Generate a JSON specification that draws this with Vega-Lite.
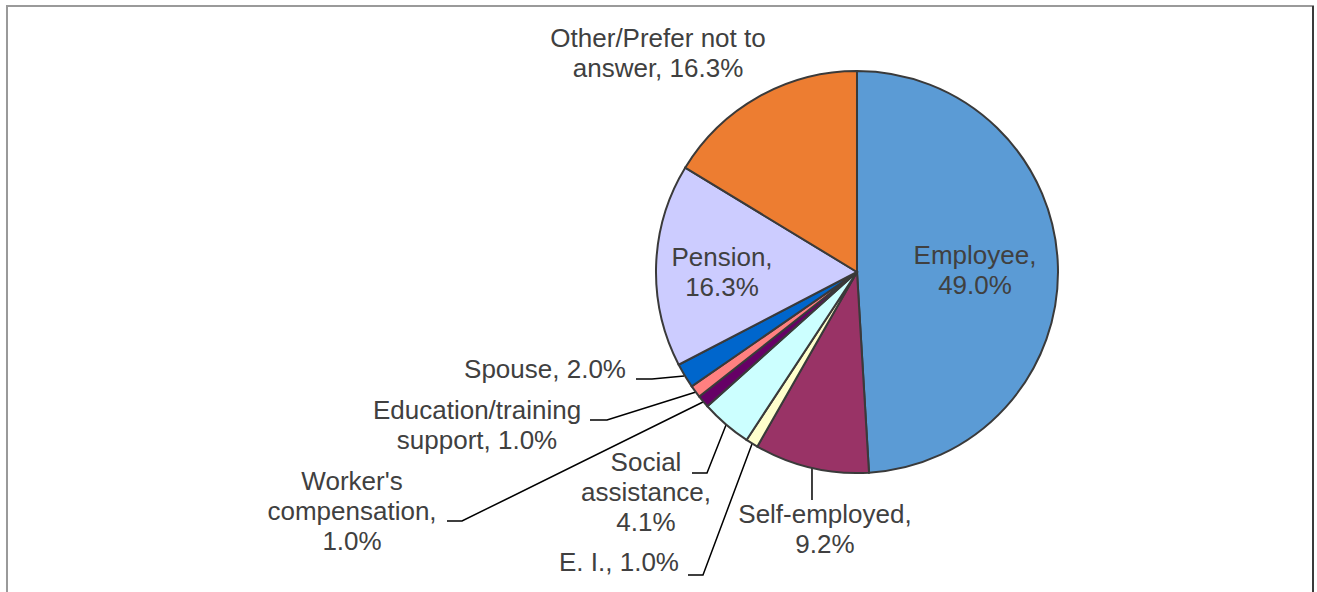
{
  "$schema": "https://vega.github.io/schema/vega-lite/v6.json",
  "width": 1317,
  "height": 592,
  "padding": 0,
  "autosize": {"type": "none"},
  "background": "white",
  "config": {"view": {"stroke": null}},
  "datasets": {
    "slices": [
      {"category": "Employee", "value": 49.0, "idx": 1},
      {"category": "Self-employed", "value": 9.2, "idx": 2},
      {"category": "E. I.", "value": 1.0, "idx": 3},
      {"category": "Social assistance", "value": 4.1, "idx": 4},
      {"category": "Worker's compensation", "value": 1.0, "idx": 5},
      {"category": "Education/training support", "value": 1.0, "idx": 6},
      {"category": "Spouse", "value": 2.0, "idx": 7},
      {"category": "Pension", "value": 16.3, "idx": 8},
      {"category": "Other/Prefer not to answer", "value": 16.3, "idx": 9}
    ],
    "labels": [
      {"text": "Other/Prefer not to\nanswer, 16.3%", "lx": -99.0, "ly": 115.92},
      {"text": "Pension,\n16.3%", "lx": -67.16, "ly": 7.21},
      {"text": "Employee,\n49.0%", "lx": 58.71, "ly": 7.96},
      {"text": "Spouse, 2.0%", "lx": -155.22, "ly": -48.76},
      {"text": "Education/training\nsupport, 1.0%", "lx": -189.05, "ly": -68.91},
      {"text": "Worker's\ncompensation,\n1.0%", "lx": -251.24, "ly": -104.48},
      {"text": "Social\nassistance,\n4.1%", "lx": -104.98, "ly": -95.02},
      {"text": "E. I., 1.0%", "lx": -118.41, "ly": -145.02},
      {"text": "Self-employed,\n9.2%", "lx": -15.92, "ly": -120.65}
    ],
    "leaders": [
      {"line": "Spouse", "p": 1, "lx": -109.95, "ly": -53.23},
      {"line": "Spouse", "p": 2, "lx": -101.99, "ly": -53.23},
      {"line": "Spouse", "p": 3, "lx": -86.07, "ly": -51.74},
      {"line": "Education", "p": 1, "lx": -132.84, "ly": -73.63},
      {"line": "Education", "p": 2, "lx": -124.38, "ly": -73.63},
      {"line": "Education", "p": 3, "lx": -80.1, "ly": -59.7},
      {"line": "Worker", "p": 1, "lx": -203.98, "ly": -123.88},
      {"line": "Worker", "p": 2, "lx": -196.52, "ly": -123.88},
      {"line": "Worker", "p": 3, "lx": -76.62, "ly": -64.68},
      {"line": "Social", "p": 1, "lx": -82.09, "ly": -100.0},
      {"line": "Social", "p": 2, "lx": -74.63, "ly": -100.0},
      {"line": "Social", "p": 3, "lx": -65.17, "ly": -76.12},
      {"line": "EI", "p": 1, "lx": -84.08, "ly": -150.75},
      {"line": "EI", "p": 2, "lx": -76.62, "ly": -150.75},
      {"line": "EI", "p": 3, "lx": -52.24, "ly": -85.57},
      {"line": "Self", "p": 1, "lx": -22.39, "ly": -97.51},
      {"line": "Self", "p": 2, "lx": -22.39, "ly": -113.43}
    ]
  },
  "layer": [
    {
      "data": {"values": [{"a": 1}]},
      "mark": {"type": "rect", "fill": null, "stroke": "#9a9a9a", "strokeWidth": 2},
      "encoding": {
        "x": {"datum": -422.89, "type": "quantitative", "scale": {"domain": [-426.37, 228.86], "nice": false, "zero": false}, "axis": null},
        "x2": {"datum": 226.87},
        "y": {"datum": 132.34, "type": "quantitative", "scale": {"domain": [-159.2, 135.32], "nice": false, "zero": false}, "axis": null},
        "y2": {"datum": -163.18}
      }
    },
    {
      "data": {"values": [{"a": 1}]},
      "mark": {"type": "rule", "stroke": "#3a3a3a", "strokeWidth": 2},
      "encoding": {
        "x": {"datum": 226.87, "type": "quantitative"},
        "y": {"datum": 132.34, "type": "quantitative"},
        "y2": {"datum": -163.18}
      }
    },
    {
      "data": {"name": "leaders"},
      "mark": {"type": "line", "stroke": "#000000", "strokeWidth": 1.5},
      "encoding": {
        "x": {"field": "lx", "type": "quantitative"},
        "y": {"field": "ly", "type": "quantitative"},
        "detail": {"field": "line"},
        "order": {"field": "p"}
      }
    },
    {
      "data": {"name": "slices"},
      "mark": {"type": "arc", "radius": 201, "stroke": "#3a3a3a", "strokeWidth": 2},
      "encoding": {
        "x": {"datum": 0, "type": "quantitative"},
        "y": {"datum": 0, "type": "quantitative"},
        "theta": {"field": "value", "type": "quantitative", "stack": true},
        "order": {"field": "idx"},
        "color": {
          "field": "category",
          "type": "nominal",
          "legend": null,
          "scale": {
            "domain": ["Employee", "Self-employed", "E. I.", "Social assistance", "Worker's compensation", "Education/training support", "Spouse", "Pension", "Other/Prefer not to answer"],
            "range": ["#5B9BD5", "#993366", "#FFFFCC", "#CCFFFF", "#660066", "#FF8080", "#0066CC", "#CCCCFF", "#ED7D31"]
          }
        }
      }
    },
    {
      "data": {"name": "labels"},
      "mark": {"type": "text", "font": "Liberation Sans", "fontSize": 26, "lineHeight": 30, "lineBreak": "\n", "align": "center", "baseline": "middle", "fill": "#404040"},
      "encoding": {
        "x": {"field": "lx", "type": "quantitative"},
        "y": {"field": "ly", "type": "quantitative"},
        "text": {"field": "text"}
      }
    }
  ]
}
